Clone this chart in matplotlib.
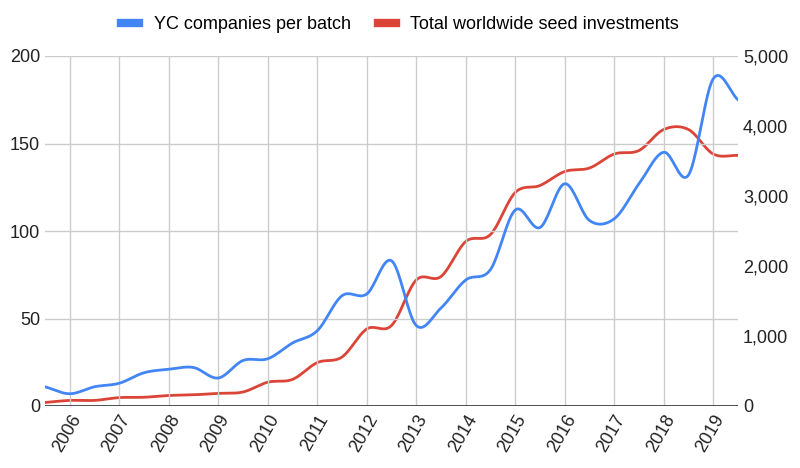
import numpy as np
import matplotlib
matplotlib.use("Agg")
import matplotlib.pyplot as plt
plt.rcParams['font.family'] = ['Liberation Sans', 'DejaVu Sans']

periods = [2005.5 + 0.5*i for i in range(29)]
yc = [11, 7, 11, 13, 19, 21, 22, 16, 26, 27, 36, 43, 63, 64, 83, 46, 56, 72, 78,
      112, 102, 127, 106, 107, 127, 145, 132, 187, 175]
seed = [50, 80, 80, 120, 125, 150, 160, 180, 200, 340, 380, 620, 700, 1100, 1150,
        1800, 1850, 2350, 2450, 3050, 3150, 3350, 3400, 3600, 3650, 3950, 3950, 3600, 3580]
years = list(range(2006, 2020))

def smooth(x, y, n=20):
    x = np.asarray(x, float); y = np.asarray(y, float)
    xp = np.concatenate([[2*x[0]-x[1]], x, [2*x[-1]-x[-2]]])
    yp = np.concatenate([[2*y[0]-y[1]], y, [2*y[-1]-y[-2]]])
    xs, ys = [], []
    for i in range(1, len(xp)-2):
        t = np.linspace(0, 1, n, endpoint=False)
        for arr, out in ((xp, xs), (yp, ys)):
            p0, p1, p2, p3 = arr[i-1:i+3]
            out.extend(0.5*((2*p1) + (-p0+p2)*t + (2*p0-5*p1+4*p2-p3)*t**2 + (-p0+3*p1-3*p2+p3)*t**3))
    xs.append(x[-1]); ys.append(y[-1])
    return np.array(xs), np.array(ys)

fig = plt.figure(figsize=(8, 4.68), dpi=100)
ax = fig.add_axes([45/800, 62/468, 693/800, 350/468])
ax2 = ax.twinx()
bx, by = smooth(periods, yc)
rx, ry = smooth(periods, seed)
ax2.plot(rx, ry, color="#db4437", lw=2, zorder=3)
ax.plot(bx, by, color="#4285f4", lw=2, zorder=4)
ax.set_zorder(ax2.get_zorder()+1); ax.patch.set_visible(False)
ax.set_xlim(2005.5, 2019.5)
ax.set_ylim(0, 200); ax2.set_ylim(0, 5000)
ax.set_yticks([0, 50, 100, 150, 200])
ax2.set_yticks([0, 1000, 2000, 3000, 4000, 5000])
ax2.set_yticklabels(["0", "1,000", "2,000", "3,000", "4,000", "5,000"])
ax.set_xticks(years)
ax.set_xticklabels([str(y) for y in years], rotation=60, ha="right", rotation_mode="anchor")
ax.grid(True, color="#cccccc", lw=1)
for a in (ax, ax2):
    for s in a.spines.values():
        s.set_visible(False)
    a.tick_params(length=0, labelsize=13, colors="#222222")
ax.axhline(0, color="#333333", lw=1.2)
ax.tick_params(axis="x", pad=4)
from matplotlib.lines import Line2D
h = [Line2D([], [], color="#4285f4", lw=6), Line2D([], [], color="#db4437", lw=6)]
fig.legend(h, ["YC companies per batch", "Total worldwide seed investments"],
           loc="upper center", bbox_to_anchor=(0.5, 1.0), ncol=2, frameon=False,
           fontsize=13, handlelength=1.0, columnspacing=1.5)
fig.savefig("out.png", dpi=100)
